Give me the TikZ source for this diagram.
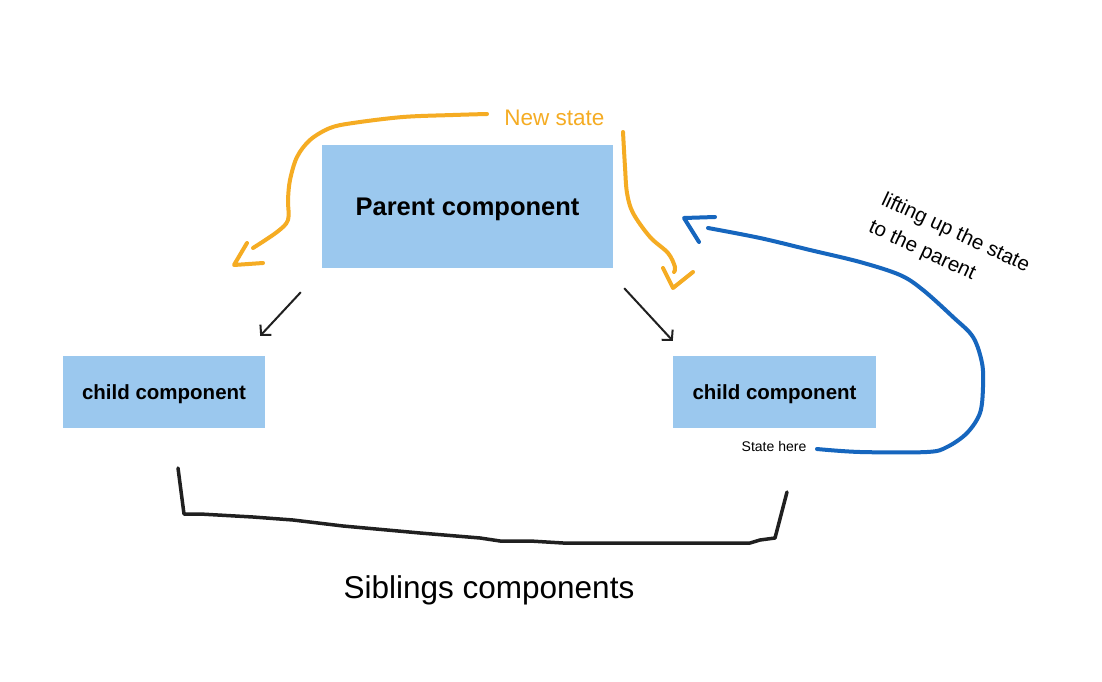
\documentclass[tikz,border=0pt]{standalone}
\usepackage{fontspec}
\setmainfont{Liberation Sans}
\usetikzlibrary{arrows.meta,calc}
\definecolor{boxblue}{RGB}{155,200,238}
\definecolor{penorange}{RGB}{245,172,35}
\definecolor{penblue}{RGB}{22,102,190}
\definecolor{penblack}{RGB}{32,32,32}
\begin{document}
\begin{tikzpicture}[x=1pt,y=-1pt,
  compbox/.style={fill=boxblue, inner sep=0pt, text depth=0pt},
  orangepen/.style={draw=penorange, line width=4pt, line cap=round, line join=round},
  bluepen/.style={draw=penblue, line width=4pt, line cap=round, line join=round},
  blackpen/.style={draw=penblack, line width=3.5pt, line cap=round, line join=round},
  childarrow/.style={draw=penblack, line width=2pt, -{Straight Barb[length=7pt,width=15pt,line width=2pt]}}
]
\useasboundingbox (0,0) rectangle (1102,682);
\fill[white] (0,0) rectangle (1102,682);

% boxes
\node[compbox, minimum width=291pt, minimum height=123pt, font=\fontsize{25.5}{30}\selectfont\bfseries] (parent) at (467.5,206.5) {Parent component};
\node[compbox, minimum width=202pt, minimum height=72pt, font=\fontsize{20.5}{24}\selectfont\bfseries] (childL) at (164,392) {child component};
\node[compbox, minimum width=203pt, minimum height=72pt, font=\fontsize{20.5}{24}\selectfont\bfseries] (childR) at (774.5,392) {child component};

% labels
\node[text=penorange, inner sep=0pt, text depth=0pt, font=\fontsize{22.5}{27}\selectfont] (newstate) at (554.5,117.5) {New state};
\node[inner sep=0pt, text depth=0pt, font=\fontsize{14}{17}\selectfont] (statehere) at (774,446) {State here};
\node[inner sep=0pt, text depth=0pt, font=\fontsize{31.5}{38}\selectfont] (siblings) at (489,587) {Siblings components};
\node[inner sep=0pt, align=left, rotate=-25, font=\fontsize{20.5}{30}\selectfont] (lifting) at (949,247) {lifting up the state\\to the parent};

% black arrows parent -> children
\coordinate (aLs) at ($(parent.south west)+(-21,24)$);
\coordinate (aLe) at ($(childL.north east)+(-5,-20)$);
\coordinate (aRs) at ($(parent.south east)+(11,20)$);
\coordinate (aRe) at ($(childR.north west)+(0,-15)$);
\draw[childarrow] (aLs) -- (aLe);
\draw[childarrow] (aRs) -- (aRe);

% orange curves
\draw[orangepen] plot[smooth, tension=0.55] coordinates {(487,114) (453,115) (403,117) (353,123) (330,128) (310,140) (297,157) (290,180) (288,200) (288,220) (277,232) (253,248)};
\draw[orangepen] (247,243) -- (234,265) -- (263,263);
\draw[orangepen] plot[smooth, tension=0.55] coordinates {(623,132) (625,167) (627,193) (633,213) (650,237) (668,253) (675,267) (674,272)};
\draw[orangepen] (663,268) -- (673,288) -- (693,272);

% blue curve
\draw[bluepen] plot[smooth, tension=0.55] coordinates {(817,449) (860,452) (927,452) (947,447) (967,433) (980,413) (983,387) (982,363) (973,337) (953,317) (923,290) (900,275) (860,262) (810,250) (760,238) (708,228)};
\draw[bluepen] (715,217) -- (684,218) -- (699,242);

% siblings bracket
\draw[blackpen] (178,468) -- (184,514) -- (200,514) -- (253,517) -- (293,520) -- (343,526) -- (420,533) -- (480,538) -- (500,541) -- (530,541) -- (563,543) -- (750,543) -- (760,540) -- (775,538) -- (787,492);
\end{tikzpicture}
\end{document}
